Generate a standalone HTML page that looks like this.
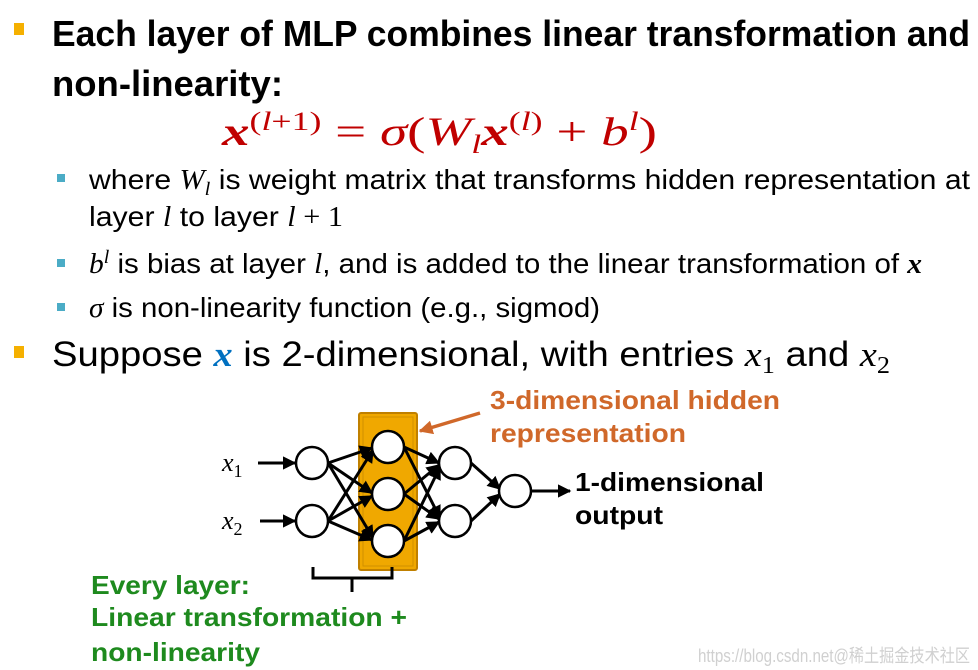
<!DOCTYPE html>
<html><head><meta charset="utf-8"><style>html,body{margin:0;padding:0;background:#fff}svg{display:block}</style></head>
<body>
<svg width="978" height="670" viewBox="0 0 978 670" xmlns="http://www.w3.org/2000/svg" font-family="Liberation Sans, sans-serif">
<defs>
<marker id="ah" viewBox="0 0 10 10" refX="9" refY="5" markerWidth="4.5" markerHeight="4.5" orient="auto"><path d="M0,0 L10,5 L0,10 z" fill="#000"/></marker>
<marker id="ao" viewBox="0 0 10 10" refX="9" refY="5" markerWidth="4" markerHeight="4" orient="auto"><path d="M0,0 L10,5 L0,10 z" fill="#d0682a"/></marker>
</defs>
<rect x="14" y="23" width="10" height="12" fill="#f5b000"/>
<text x="52" y="46" font-size="36" font-weight="bold" textLength="918" lengthAdjust="spacingAndGlyphs">Each layer of MLP combines linear transformation and</text>
<text x="52" y="96" font-size="36" font-weight="bold" textLength="231" lengthAdjust="spacingAndGlyphs">non-linearity:</text>
<text x="222" y="145" font-size="40" fill="#c00000" font-family="Liberation Serif, serif" textLength="435" lengthAdjust="spacingAndGlyphs"><tspan font-style="italic" font-weight="bold">x</tspan><tspan font-size="26" dy="-15">(<tspan font-style="italic">l</tspan>+1)</tspan><tspan dy="15"> = </tspan><tspan font-style="italic">σ</tspan>(<tspan font-style="italic">W</tspan><tspan font-style="italic" font-size="26" dy="8">l</tspan><tspan font-style="italic" font-weight="bold" dy="-8">x</tspan><tspan font-size="26" dy="-15">(<tspan font-style="italic">l</tspan>)</tspan><tspan dy="15"> + </tspan><tspan font-style="italic">b</tspan><tspan font-style="italic" font-size="26" dy="-15">l</tspan><tspan dy="15">)</tspan></text>
<rect x="57" y="174" width="8" height="8" fill="#4bacc6"/>
<rect x="57" y="259" width="8" height="8" fill="#4bacc6"/>
<rect x="57" y="303" width="8" height="8" fill="#4bacc6"/>
<text x="89" y="189" font-size="28" textLength="881" lengthAdjust="spacingAndGlyphs">where <tspan font-family="Liberation Serif, serif" font-style="italic">W</tspan><tspan font-family="Liberation Serif, serif" font-style="italic" font-size="19" dy="6">l</tspan><tspan dy="-6"> is weight matrix that transforms hidden representation at</tspan></text>
<text x="89" y="226" font-size="28" textLength="254" lengthAdjust="spacingAndGlyphs">layer <tspan font-family="Liberation Serif, serif" font-style="italic">l</tspan> to layer <tspan font-family="Liberation Serif, serif" font-style="italic">l</tspan><tspan font-family="Liberation Serif, serif"> + 1</tspan></text>
<text x="89" y="273" font-size="28" textLength="833" lengthAdjust="spacingAndGlyphs"><tspan font-family="Liberation Serif, serif" font-style="italic">b</tspan><tspan font-family="Liberation Serif, serif" font-style="italic" font-size="19" dy="-10">l</tspan><tspan dy="10"> is bias at layer </tspan><tspan font-family="Liberation Serif, serif" font-style="italic">l</tspan>, and is added to the linear transformation of <tspan font-family="Liberation Serif, serif" font-style="italic" font-weight="bold">x</tspan></text>
<text x="89" y="317" font-size="28" textLength="511" lengthAdjust="spacingAndGlyphs"><tspan font-family="Liberation Serif, serif" font-style="italic">σ</tspan> is non-linearity function (e.g., sigmod)</text>
<rect x="14" y="346" width="10" height="12" fill="#f5b000"/>
<text x="52" y="366" font-size="35" textLength="838" lengthAdjust="spacingAndGlyphs">Suppose <tspan font-family="Liberation Serif, serif" font-style="italic" font-weight="bold" fill="#0070c0">x</tspan> is 2-dimensional, with entries <tspan font-family="Liberation Serif, serif" font-style="italic">x</tspan><tspan font-family="Liberation Serif, serif" font-size="24" dy="7">1</tspan><tspan dy="-7"> and </tspan><tspan font-family="Liberation Serif, serif" font-style="italic">x</tspan><tspan font-family="Liberation Serif, serif" font-size="24" dy="7">2</tspan></text>

<rect x="359" y="413" width="58" height="157" fill="#f0a800" stroke="#c08000" stroke-width="2" rx="2"/>
<rect x="363" y="417" width="50" height="149" fill="none" stroke="#d09000" stroke-width="1"/>
<g stroke="#000" stroke-width="3" fill="none" marker-end="url(#ah)">
<line x1="258" y1="463" x2="295" y2="463"/>
<line x1="260" y1="521" x2="295" y2="521"/>
<line x1="328" y1="463" x2="372" y2="448"/>
<line x1="328" y1="463" x2="372" y2="493"/>
<line x1="328" y1="463" x2="373" y2="538"/>
<line x1="328" y1="521" x2="373" y2="450"/>
<line x1="328" y1="521" x2="372" y2="496"/>
<line x1="328" y1="521" x2="372" y2="540"/>
<line x1="404" y1="447" x2="439" y2="463"/>
<line x1="404" y1="447" x2="440" y2="518"/>
<line x1="404" y1="494" x2="439" y2="465"/>
<line x1="404" y1="494" x2="439" y2="519"/>
<line x1="404" y1="541" x2="440" y2="467"/>
<line x1="404" y1="541" x2="439" y2="522"/>
<line x1="471" y1="463" x2="500" y2="489"/>
<line x1="471" y1="521" x2="500" y2="494"/>
<line x1="531" y1="491" x2="570" y2="491"/>
</g>
<g fill="#fff" stroke="#000" stroke-width="2.5">
<circle cx="312" cy="463" r="16"/><circle cx="312" cy="521" r="16"/>
<circle cx="388" cy="447" r="16"/><circle cx="388" cy="494" r="16"/><circle cx="388" cy="541" r="16"/>
<circle cx="455" cy="463" r="16"/><circle cx="455" cy="521" r="16"/>
<circle cx="515" cy="491" r="16"/>
</g>
<line x1="480" y1="413" x2="420" y2="431" stroke="#d0682a" stroke-width="3.5" marker-end="url(#ao)"/>
<path d="M313,567 V578 H392 V567 M352,578 V592" stroke="#000" stroke-width="3" fill="none"/>
<text x="222" y="471" font-size="26" font-family="Liberation Serif, serif" font-style="italic">x<tspan font-style="normal" font-size="18" dy="6">1</tspan></text>
<text x="222" y="529" font-size="26" font-family="Liberation Serif, serif" font-style="italic">x<tspan font-style="normal" font-size="18" dy="6">2</tspan></text>
<g font-weight="bold" font-size="26">
<text x="490" y="409" fill="#d0682a" textLength="290" lengthAdjust="spacingAndGlyphs">3-dimensional hidden</text>
<text x="490" y="442" fill="#d0682a" textLength="196" lengthAdjust="spacingAndGlyphs">representation</text>
<text x="575" y="491" textLength="189" lengthAdjust="spacingAndGlyphs">1-dimensional</text>
<text x="575" y="524" textLength="88" lengthAdjust="spacingAndGlyphs">output</text>
<text x="91" y="594" fill="#1e8a1e" textLength="159" lengthAdjust="spacingAndGlyphs">Every layer:</text>
<text x="91" y="626" fill="#1e8a1e" textLength="316" lengthAdjust="spacingAndGlyphs">Linear transformation +</text>
<text x="91" y="661" fill="#1e8a1e" textLength="169" lengthAdjust="spacingAndGlyphs">non-linearity</text>
</g>
<text x="698" y="662" font-size="18" fill="#d0d0d0" font-family="Liberation Sans, Noto Sans CJK SC, sans-serif" textLength="272" lengthAdjust="spacingAndGlyphs">https://blog.csdn.net@稀土掘金技术社区</text>
</svg>
</body></html>
